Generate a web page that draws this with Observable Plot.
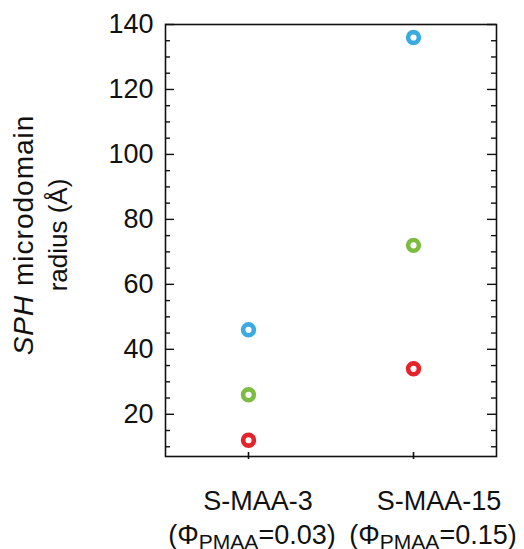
<!DOCTYPE html>
<html>
<head>
<meta charset="utf-8">
<script src="https://cdn.jsdelivr.net/npm/d3@7"></script>
<script src="https://cdn.jsdelivr.net/npm/@observablehq/plot@0.6"></script>
<style>
  html, body { margin: 0; padding: 0; background: #fff; }
  #chart svg { display: block; }
</style>
</head>
<body>
<div id="chart"></div>
<script>
// Samples and their PMAA volume fractions
const samples = ["S-MAA-3", "S-MAA-15"];
const phiPMAA = ["0.03", "0.15"];

// SPH microdomain radius (Å) for the three series
const radiusBlue = [46, 136];
const radiusGreen = [26, 72];
const radiusRed = [12, 34];

const seriesNames = ["A", "B", "C"];
const seriesColors = ["#3aaae3", "#7cbd41", "#e4232b"];

// Axis ticks
const yMajorTicks = [20, 40, 60, 80, 100, 120, 140];
const yMinorTicks = [10, 15, 25, 30, 35, 45, 50, 55, 65, 70, 75, 85, 90, 95, 105, 110, 115, 125, 130, 135];

const rows = samples.flatMap((s, i) => [
  {sample: s, radius: radiusBlue[i], series: "A"},
  {sample: s, radius: radiusGreen[i], series: "B"},
  {sample: s, radius: radiusRed[i], series: "C"}
]);

const width = 524, height = 549;
const margin = {left: 165, right: 28, top: 24, bottom: 93};
const innerW = width - margin.left - margin.right;
const innerH = height - margin.top - margin.bottom;
const font = "'Liberation Sans', Arial, Helvetica, sans-serif";

const plot = Plot.plot({
  width, height,
  marginLeft: margin.left, marginRight: margin.right,
  marginTop: margin.top, marginBottom: margin.bottom,
  style: {fontFamily: font, fontSize: "26px", color: "#111", background: "#fff", overflow: "visible"},
  x: {type: "point", domain: samples, padding: 0.5, axis: null},
  y: {domain: [7, 140], axis: null},
  color: {domain: seriesNames, range: seriesColors},
  marks: [
    Plot.axisY(yMajorTicks, {anchor: "left", label: null, tickSize: 0, tickPadding: 12, fontSize: 27, fill: "#111"}),
    // inward ticks on left and right edges
    Plot.tickY(yMajorTicks, {y: d => d, insetRight: innerW - 9, stroke: "#111", strokeWidth: 1.4}),
    Plot.tickY(yMajorTicks, {y: d => d, insetLeft: innerW - 9, stroke: "#111", strokeWidth: 1.4}),
    Plot.tickY(yMinorTicks, {y: d => d, insetRight: innerW - 5, stroke: "#111", strokeWidth: 1.4}),
    Plot.tickY(yMinorTicks, {y: d => d, insetLeft: innerW - 5, stroke: "#111", strokeWidth: 1.4}),
    Plot.tickX(samples, {x: d => d, insetTop: innerH - 4, insetBottom: -3, stroke: "#111", strokeWidth: 1.6}),
    Plot.frame({stroke: "#111", strokeWidth: 1.6}),
    Plot.dot(rows, {x: "sample", y: "radius", stroke: "series", r: 5.4, strokeWidth: 4.6, fill: "white"})
  ]
});

const svg = d3.select(plot);
const xs = plot.scale("x");

// Two-line category labels with subscripted PMAA
const nameShift = [10, 26];
const phiShift = [4, 20];
const xl = svg.append("g")
  .attr("font-family", font)
  .attr("fill", "#111")
  .attr("text-anchor", "middle");
samples.forEach((s, i) => {
  const cx = xs.apply(s);
  xl.append("text").attr("x", cx + nameShift[i]).attr("y", 510).attr("font-size", 27).text(s);
  const t = xl.append("text").attr("x", cx + phiShift[i]).attr("y", 544).attr("font-size", 27);
  t.append("tspan").text("(Φ");
  t.append("tspan").attr("font-size", 21).attr("dy", 5).text("PMAA");
  t.append("tspan").attr("dy", -5).text(`=${phiPMAA[i]})`);
});

// Rotated y-axis title
const cy = 235;
const yl = svg.append("g")
  .attr("font-family", font)
  .attr("fill", "#111")
  .attr("text-anchor", "middle");
const t1 = yl.append("text")
  .attr("transform", `translate(33,${cy}) rotate(-90)`)
  .attr("font-size", 28)
  .attr("letter-spacing", 1);
t1.append("tspan").attr("font-style", "italic").text("SPH");
t1.append("tspan").text(" microdomain");
yl.append("text")
  .attr("transform", `translate(67,${cy}) rotate(-90)`)
  .attr("font-size", 26)
  .text("radius (Å)");

document.getElementById("chart").appendChild(plot);
</script>
</body>
</html>
